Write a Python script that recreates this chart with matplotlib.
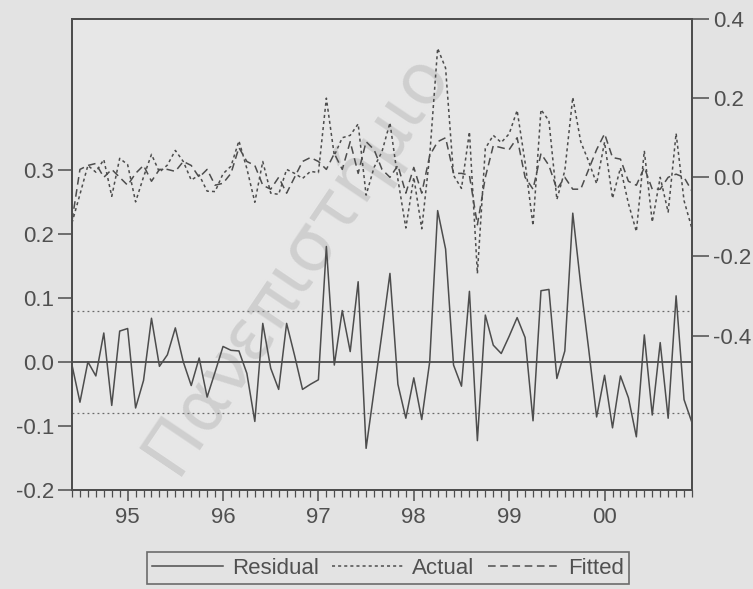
import matplotlib
matplotlib.use("Agg")
import matplotlib.pyplot as plt
import matplotlib.lines as mlines

plt.rcParams['font.family'] = ['Liberation Sans', 'DejaVu Sans']

# Monthly observations 1994M06 .. 2000M12 (79 obs)
year_labels = ['95', '96', '97', '98', '99', '00']
year_start_idx = [7, 19, 31, 43, 55, 67]

residual = [-0.005, -0.063, 0.000, -0.022, 0.045, -0.068, 0.048, 0.052, -0.072, -0.029,
            0.068, -0.007, 0.011, 0.053, 0.000, -0.037, 0.006, -0.055, -0.016, 0.024,
            0.018, 0.017, -0.018, -0.093, 0.060, -0.010, -0.043, 0.060, 0.010, -0.043,
            -0.035, -0.028, 0.180, -0.005, 0.080, 0.016, 0.125, -0.135, -0.045, 0.045,
            0.138, -0.035, -0.088, -0.025, -0.090, 0.000, 0.236, 0.176, -0.005, -0.038,
            0.110, -0.123, 0.073, 0.026, 0.013, 0.040, 0.069, 0.038, -0.092, 0.111,
            0.113, -0.026, 0.017, 0.232, 0.120, 0.020, -0.086, -0.021, -0.103, -0.022,
            -0.056, -0.117, 0.042, -0.083, 0.030, -0.088, 0.103, -0.059, -0.095]

fitted = [-0.110, 0.020, 0.030, 0.035, 0.000, 0.020, 0.000, -0.020, 0.010, 0.030,
          -0.010, 0.020, 0.020, 0.015, 0.040, 0.030, 0.000, 0.020, -0.020, -0.015,
          0.010, 0.075, 0.040, 0.030, -0.020, -0.030, 0.000, -0.040, 0.000, 0.040,
          0.050, 0.040, 0.020, 0.060, 0.020, 0.090, 0.010, 0.090, 0.070, 0.020,
          0.000, 0.030, -0.040, 0.025, -0.040, 0.055, 0.090, 0.100, 0.010, 0.010,
          0.005, -0.120, 0.000, 0.080, 0.075, 0.070, 0.100, 0.000, -0.030, 0.060,
          0.030, -0.030, 0.000, -0.030, -0.030, 0.020, 0.070, 0.110, 0.050, 0.046,
          -0.010, -0.020, 0.025, -0.030, -0.030, 0.000, 0.008, 0.000, -0.035]

actual = [-0.115, -0.043, 0.030, 0.013, 0.045, -0.048, 0.048, 0.032, -0.062, 0.001,
          0.058, 0.013, 0.031, 0.068, 0.040, -0.007, 0.006, -0.035, -0.036, 0.009,
          0.028, 0.092, 0.022, -0.063, 0.040, -0.040, -0.043, 0.020, 0.010, -0.003,
          0.015, 0.012, 0.200, 0.055, 0.100, 0.106, 0.135, -0.045, 0.025, 0.065,
          0.138, -0.005, -0.128, 0.000, -0.130, 0.055, 0.326, 0.276, 0.005, -0.028,
          0.115, -0.243, 0.073, 0.106, 0.088, 0.110, 0.169, 0.038, -0.122, 0.171,
          0.143, -0.056, 0.017, 0.202, 0.090, 0.040, -0.016, 0.089, -0.053, 0.024,
          -0.066, -0.137, 0.067, -0.113, 0.000, -0.088, 0.111, -0.059, -0.130]

band = 0.08
left_ticks = [-0.2, -0.1, 0.0, 0.1, 0.2, 0.3]
right_ticks = [-0.4, -0.2, 0.0, 0.2, 0.4]

bg = '#e3e3e3'
ink = '#4d4d4d'
txt = '#505050'

W, H = 753, 589
fig = plt.figure(figsize=(W / 100, H / 100), dpi=100, facecolor=bg)
L, R, T, B = 72, 692, 19, 490
ax = fig.add_axes([L / W, 1 - B / H, (R - L) / W, (B - T) / H])
ax.set_facecolor('#e7e7e7')

x = list(range(len(residual)))

# faint diagonal watermark of the scanned page
ax.text(295 / W, 1 - 262 / H, 'Πανεπιστήμιο', transform=fig.transFigure, rotation=56,
        fontsize=51, color='#cfcfcf', ha='center', va='center',
        rotation_mode='anchor', zorder=0.5, clip_on=False, family=['DejaVu Sans'])

ax.axhline(0, color=ink, lw=1.3, zorder=2)
ax.axhline(band, color='#6a6a6a', lw=0.9, ls=(0, (1.5, 2.5)), zorder=2)
ax.axhline(-band, color='#6a6a6a', lw=0.9, ls=(0, (1.5, 2.5)), zorder=2)
ax.plot(x, residual, color=ink, lw=1.1, zorder=3)
ax.set_xlim(0, len(residual) - 1)
ax.set_ylim(-0.2, 0.535)
ax.set_yticks(left_ticks)
ax.set_yticklabels([f'{v:.1f}' for v in left_ticks])

ax2 = ax.twinx()
ax2.plot(x, actual, color=ink, lw=1.1, ls=(0, (2, 2)), zorder=3)
ax2.plot(x, fitted, color=ink, lw=1.1, ls=(0, (5, 3)), zorder=3)
ax2.set_ylim(-0.79, 0.40)
ax2.set_yticks(right_ticks)
ax2.set_yticklabels([f'{v:.1f}' for v in right_ticks])

ax.set_xticks(year_start_idx)
ax.set_xticklabels(year_labels)
ax.set_xticks(x, minor=True)

for a in (ax, ax2):
    for s in a.spines.values():
        s.set_color(ink)
        s.set_linewidth(1.3)
ax.tick_params(axis='x', which='major', direction='out', length=8, width=1.1,
               color=ink, labelsize=16, labelcolor=txt, pad=4)
ax.tick_params(axis='x', which='minor', direction='out', length=5, width=0.9, color=ink)
ax.tick_params(axis='y', direction='out', length=10, width=1.1, color=ink,
               labelsize=16, labelcolor=txt, pad=3)
ax2.tick_params(axis='y', direction='out', length=12, width=1.1, color=ink,
                labelsize=16, labelcolor=txt, pad=3)

handles = [mlines.Line2D([], [], color=ink, lw=1.1),
           mlines.Line2D([], [], color=ink, lw=1.1, ls=(0, (2, 2))),
           mlines.Line2D([], [], color=ink, lw=1.1, ls=(0, (5, 3)))]
leg = fig.legend(handles, ['Residual', 'Actual', 'Fitted'], loc='center',
                 bbox_to_anchor=(388 / W, 1 - 568 / H), ncol=3, fontsize=16,
                 frameon=True, fancybox=False, edgecolor=ink, facecolor=bg,
                 handlelength=3.2, handletextpad=0.4, columnspacing=0.6,
                 borderpad=0.25)
leg.get_frame().set_linewidth(1.2)
for t in leg.get_texts():
    t.set_color(txt)

fig.savefig('out.png', dpi=100, facecolor=bg)
